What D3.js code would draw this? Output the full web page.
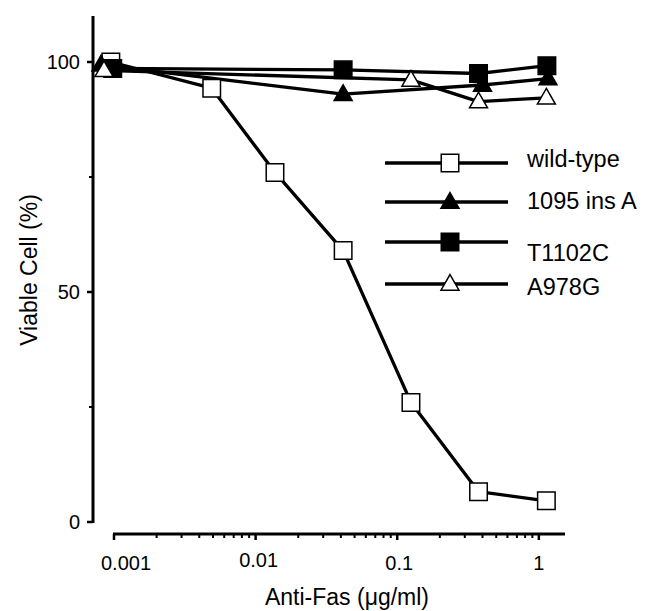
<!DOCTYPE html>
<html>
<head>
  <title>Viable Cell vs Anti-Fas</title>
  <style>
    body { margin: 0; background: #fff; }
    text { font-family: "Liberation Sans", Arial, Helvetica, sans-serif; fill: #000; }
  </style>
</head>
<body>
  <script src="https://cdnjs.cloudflare.com/ajax/libs/d3/7.8.5/d3.min.js"></script>
  <script>
    // data
    const seriesNames = ["wild-type", "1095 ins A", "T1102C", "A978G"];
    const wildX = [0.00095, 0.0049, 0.0137, 0.0415, 0.125, 0.375, 1.13];
    const wildY = [100, 94.3, 76, 59, 26, 6.6, 4.6];
    const insAX = [0.00081, 0.0415, 0.40, 1.16];
    const insAY = [99.4, 93, 95, 96.4];
    const t1102X = [0.00098, 0.0415, 0.375, 1.14];
    const t1102Y = [98.6, 98.3, 97.5, 99.2];
    const a978X = [0.00085, 0.125, 0.375, 1.13];
    const a978Y = [98.2, 96.1, 91.4, 92.2];
    const xTicks = [0.001, 0.01, 0.1, 1];
    const xTickLabels = ["0.001", "0.01", "0.1", "1"];
    const yTicks = [0, 50, 100];

    const width = 647, height = 611;

    const svg = d3.select("body").append("svg")
      .attr("width", width)
      .attr("height", height);

    const x = d3.scaleLog().domain([0.001, 1.53]).range([114, 565]);
    const y = d3.scaleLinear().domain([0, 110]).range([522, 16]);

    const zip = (xs, ys) => xs.map((v, i) => ({x: v, y: ys[i]}));
    const series = [
      {name: seriesNames[0], pts: zip(wildX, wildY), shape: "square", fill: "#fff"},
      {name: seriesNames[1], pts: zip(insAX, insAY), shape: "triangle", fill: "#000"},
      {name: seriesNames[2], pts: zip(t1102X, t1102Y), shape: "square", fill: "#000"},
      {name: seriesNames[3], pts: zip(a978X, a978Y), shape: "triangle", fill: "#fff"}
    ];

    function symbolPath(shape) {
      return shape === "square"
        ? d3.symbol(d3.symbolSquare, 17.5 * 17.5)()
        : d3.symbol(d3.symbolTriangle, 18 * 18 * Math.sqrt(3) / 4)();
    }

    // y axis
    const yAxis = svg.append("g").attr("transform", "translate(93,0)");
    yAxis.append("line")
      .attr("x1", 0).attr("x2", 0)
      .attr("y1", y.range()[1]).attr("y2", y(0) + 1)
      .attr("stroke", "#000").attr("stroke-width", 3);
    yAxis.selectAll(".major").data(yTicks).join("line")
      .attr("x1", -6).attr("x2", 0)
      .attr("y1", d => y(d)).attr("y2", d => y(d))
      .attr("stroke", "#000").attr("stroke-width", 2.5);
    yAxis.selectAll(".minor").data([25, 75]).join("line")
      .attr("x1", -4).attr("x2", 0)
      .attr("y1", d => y(d)).attr("y2", d => y(d))
      .attr("stroke", "#000").attr("stroke-width", 2);
    yAxis.selectAll("text").data(yTicks).join("text")
      .attr("x", -13)
      .attr("y", d => y(d))
      .attr("dy", "0.36em")
      .attr("text-anchor", "end")
      .style("font-size", "20px")
      .text(d => d);

    // x axis (log)
    const xAxis = svg.append("g").attr("transform", "translate(0,534)");
    xAxis.append("line")
      .attr("x1", 113).attr("x2", x.range()[1])
      .attr("stroke", "#000").attr("stroke-width", 3);
    const minor = [];
    [0.001, 0.01, 0.1, 1].forEach(dec => {
      for (let k = 2; k <= 9; k++) if (dec * k <= 1.53) minor.push(dec * k);
    });
    xAxis.selectAll(".minor").data(minor).join("line")
      .attr("x1", d => x(d)).attr("x2", d => x(d))
      .attr("y1", 0).attr("y2", 4)
      .attr("stroke", "#000").attr("stroke-width", 2);
    xAxis.selectAll(".major").data(xTicks).join("line")
      .attr("x1", d => x(d)).attr("x2", d => x(d))
      .attr("y1", 0).attr("y2", 6)
      .attr("stroke", "#000").attr("stroke-width", 2.5);
    const labelShift = [12, 3, 2, 0];
    const labelBase = [36, 33, 36, 36];
    xAxis.selectAll("text").data(xTicks).join("text")
      .attr("x", (d, i) => x(d) + labelShift[i])
      .attr("y", (d, i) => labelBase[i])
      .attr("text-anchor", "middle")
      .style("font-size", "20px")
      .text((d, i) => xTickLabels[i]);

    // axis titles
    svg.append("text")
      .attr("x", 347).attr("y", 605)
      .attr("text-anchor", "middle")
      .style("font-size", "23px")
      .text("Anti-Fas (\u03bcg/ml)");
    svg.append("text")
      .attr("transform", "translate(37,270) rotate(-90)")
      .attr("text-anchor", "middle")
      .style("font-size", "23px")
      .text("Viable Cell (%)");

    // lines
    const line = d3.line().x(d => x(d.x)).y(d => y(d.y));
    svg.selectAll(".series").data(series).join("path")
      .attr("d", d => line(d.pts))
      .attr("fill", "none")
      .attr("stroke", "#000")
      .attr("stroke-width", 3.3)
      .attr("stroke-linejoin", "round");

    // markers
    series.forEach(s => {
      svg.append("g").selectAll("path").data(s.pts).join("path")
        .attr("transform", d => `translate(${x(d.x)},${y(d.y) + (s.shape === "triangle" ? 1 : 0)})`)
        .attr("d", symbolPath(s.shape))
        .attr("fill", s.fill)
        .attr("stroke", "#000")
        .attr("stroke-width", 1.5);
    });

    // legend
    const legLineY = [163, 202, 242, 284];
    const legTextY = [167, 209, 261, 295];
    const legend = svg.append("g");
    series.forEach((s, i) => {
      legend.append("line")
        .attr("x1", 385).attr("x2", 508)
        .attr("y1", legLineY[i]).attr("y2", legLineY[i])
        .attr("stroke", "#000").attr("stroke-width", 3.3);
      legend.append("path")
        .attr("transform", `translate(450,${legLineY[i] + (s.shape === "triangle" ? 1 : 0)})`)
        .attr("d", symbolPath(s.shape))
        .attr("fill", s.fill)
        .attr("stroke", "#000")
        .attr("stroke-width", 1.5);
      legend.append("text")
        .attr("x", 527).attr("y", legTextY[i])
        .style("font-size", "23.5px")
        .text(s.name);
    });
  </script>
</body>
</html>
